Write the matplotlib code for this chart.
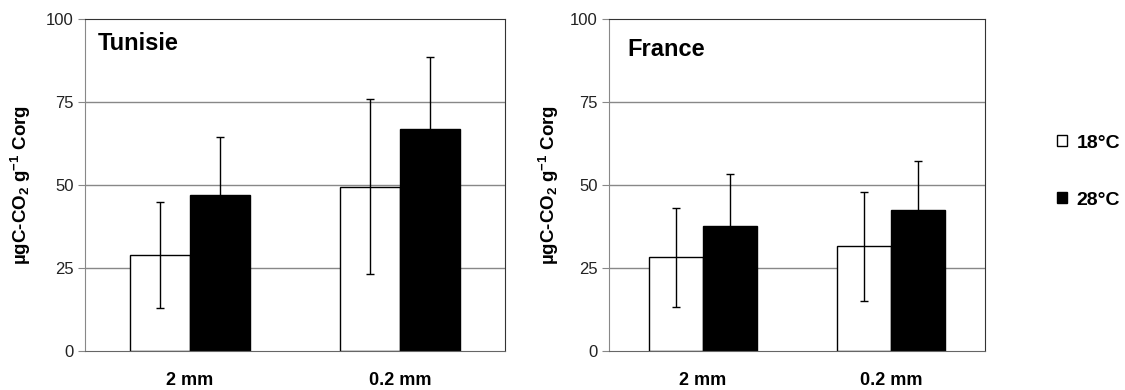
import matplotlib.pyplot as plt
import numpy as np

plt.rcParams['font.family'] = ['Liberation Sans', 'DejaVu Sans']
plt.rcParams['mathtext.fontset'] = 'custom'
plt.rcParams['mathtext.rm'] = 'Liberation Sans:bold'
plt.rcParams['mathtext.bf'] = 'Liberation Sans:bold'
plt.rcParams['mathtext.default'] = 'bf'

sizes = ['2 mm', '0.2 mm']
temps = ['18°C', '28°C']
yticks = [0, 25, 50, 75, 100]

# Tunisie
tun_18 = [29, 49.5]
tun_18_err = [16, 26.4]
tun_28 = [46.9, 66.9]
tun_28_err = [17.5, 21.7]

# France
fra_18 = [28.2, 31.5]
fra_18_err = [15, 16.5]
fra_28 = [37.6, 42.5]
fra_28_err = [15.7, 14.6]

fig = plt.figure(figsize=(11.25, 3.9), dpi=100)
ax1 = fig.add_axes([0.0756, 0.1, 0.3733, 0.851])
ax2 = fig.add_axes([0.5413, 0.1, 0.3342, 0.851])

def panel(ax, v18, e18, v28, e28, title, tx, ty, lx):
    x = np.arange(len(sizes))
    w = 0.285
    ax.bar(x - w/2, v18, w, color='white', edgecolor='black', linewidth=1, zorder=2, label=temps[0])
    ax.bar(x + w/2, v28, w, color='black', edgecolor='black', linewidth=1, zorder=2, label=temps[1])
    ax.errorbar(x - w/2, v18, yerr=e18, fmt='none', ecolor='black', elinewidth=1, capsize=3, capthick=1, zorder=3)
    ax.errorbar(x + w/2, v28, yerr=e28, fmt='none', ecolor='black', elinewidth=1, capsize=3, capthick=1, zorder=1)
    ax.set_xlim(-0.5, 1.5)
    ax.set_ylim(0, 100)
    ax.set_yticks(yticks)
    ax.set_xticks(x)
    ax.set_xticklabels(sizes, fontsize=13, fontweight='bold')
    ax.tick_params(axis='x', length=0, pad=15)
    ax.tick_params(axis='y', length=5, color='#888888', labelsize=12, labelcolor='#222222', pad=3)
    for y in yticks[1:4]:
        ax.axhline(y, color='#888888', linewidth=1, zorder=0)
    ax.spines['left'].set_color('#888888')
    ax.spines['bottom'].set_color('#666666')
    ax.spines['top'].set_color('#333333')
    ax.spines['right'].set_color('#333333')
    ax.set_ylabel(r'µgC-CO$_2$ g$^{-1}$ Corg', fontsize=13.5, fontweight='bold')
    ax.yaxis.set_label_coords(lx, 0.5)
    ax.text(tx, ty, title, transform=ax.transAxes, fontsize=17, fontweight='bold', va='center', ha='left')

panel(ax1, tun_18, tun_18_err, tun_28, tun_28_err, 'Tunisie', 0.031, 0.928, -0.124)
panel(ax2, fra_18, fra_18_err, fra_28, fra_28_err, 'France', 0.05, 0.908, -0.128)

h, l = ax2.get_legend_handles_labels()
fig.legend(h, l, loc='center left', bbox_to_anchor=(0.9396, 0.56), frameon=False,
           prop={'weight': 'bold', 'size': 14}, handlelength=0.5, handleheight=0.5,
           handletextpad=0.5, labelspacing=2.05, borderpad=0, borderaxespad=0)

fig.savefig('out.png', dpi=100)
